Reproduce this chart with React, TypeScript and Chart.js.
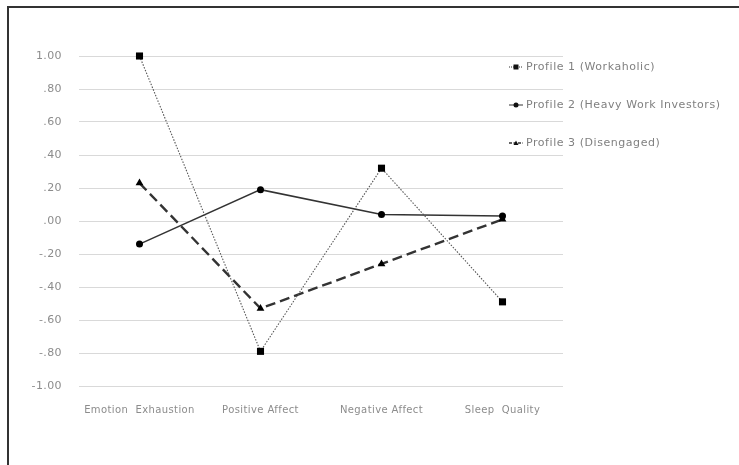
import React, { useEffect, useRef } from "react";
import { Chart, registerables } from "chart.js";

Chart.register(...registerables);

const categories = ["Emotion  Exhaustion", "Positive Affect", "Negative Affect", "Sleep  Quality"];
const profile1 = [1.0, -0.79, 0.32, -0.49];
const profile2 = [-0.14, 0.19, 0.04, 0.03];
const profile3 = [0.23, -0.53, -0.26, 0.01];
const seriesNames = ["Profile 1 (Workaholic)", "Profile 2 (Heavy Work Investors)", "Profile 3 (Disengaged)"];
const yTicks = [1.0, 0.8, 0.6, 0.4, 0.2, 0.0, -0.2, -0.4, -0.6, -0.8, -1.0];

const FONT = "'DejaVu Sans', sans-serif";
const TEXT_COLOR = "#8c8c8c";

function fmt(v: number): string {
  const s = Math.abs(v).toFixed(2);
  const t = Math.abs(v) < 1 ? s.slice(1) : s;
  return v < -0.0001 ? "-" + t : t;
}

const spacingPlugin = {
  id: "letterSpacing",
  beforeDraw(chart: any) {
    chart.ctx.letterSpacing = "0.4px";
  },
};

const legendPlugin = {
  id: "customLegend",
  afterDraw(chart: any) {
    const ctx = chart.ctx;
    const ds = chart.data.datasets;
    const x0 = 509;
    const ys = [67, 105, 143];
    ctx.save();
    ds.forEach((d: any, i: number) => {
      const y = ys[i];
      ctx.strokeStyle = "#333";
      ctx.lineWidth = i === 2 ? 1.5 : 1;
      ctx.setLineDash(i === 0 ? [1, 1] : i === 2 ? [3, 1.5] : []);
      ctx.beginPath();
      ctx.moveTo(x0, y);
      ctx.lineTo(x0 + 14, y);
      ctx.stroke();
      ctx.setLineDash([]);
      ctx.fillStyle = "#111";
      const cx = x0 + 7;
      if (i === 0) {
        ctx.fillRect(cx - 2.5, y - 2.5, 5, 5);
      } else if (i === 1) {
        ctx.beginPath();
        ctx.arc(cx, y, 2.5, 0, Math.PI * 2);
        ctx.fill();
      } else {
        ctx.beginPath();
        ctx.moveTo(cx, y - 2.5);
        ctx.lineTo(cx + 2.5, y + 2);
        ctx.lineTo(cx - 2.5, y + 2);
        ctx.closePath();
        ctx.fill();
      }
      ctx.fillStyle = "#808080";
      ctx.font = "11px " + FONT;
      ctx.letterSpacing = "0.55px";
      ctx.textAlign = "left";
      ctx.textBaseline = "middle";
      ctx.fillText(seriesNames[i], x0 + 17, y);
    });
    ctx.restore();
  },
};

export default function App() {
  const ref = useRef<HTMLCanvasElement | null>(null);

  useEffect(() => {
    if (!ref.current) return;
    const chart = new Chart(ref.current, {
      type: "line",
      data: {
        labels: categories,
        datasets: [
          {
            label: seriesNames[0],
            data: profile1,
            borderColor: "#555",
            borderWidth: 1.1,
            borderDash: [1.5, 1.5],
            pointStyle: "rect",
            pointRadius: 5,
            pointBackgroundColor: "#000",
            pointBorderColor: "#000",
            pointBorderWidth: 0,
            tension: 0,
            clip: false,
          },
          {
            label: seriesNames[1],
            data: profile2,
            borderColor: "#333",
            borderWidth: 1.5,
            borderDash: [],
            pointStyle: "circle",
            pointRadius: 3.5,
            pointBackgroundColor: "#000",
            pointBorderColor: "#000",
            pointBorderWidth: 0,
            tension: 0,
            clip: false,
          },
          {
            label: seriesNames[2],
            data: profile3,
            borderColor: "#333",
            borderWidth: 2.4,
            borderDash: [10, 5],
            pointStyle: "triangle",
            pointRadius: 4.5,
            pointBackgroundColor: "#000",
            pointBorderColor: "#000",
            pointBorderWidth: 0,
            tension: 0,
            clip: false,
          },
        ],
      },
      options: {
        animation: false,
        responsive: false,
        maintainAspectRatio: false,
        layout: { padding: { left: 0, right: 176, top: 56, bottom: 0 } },
        plugins: {
          legend: { display: false },
          tooltip: { enabled: false },
        },
        scales: {
          x: {
            type: "category",
            offset: true,
            grid: { display: false, drawTicks: false },
            border: { display: false },
            ticks: {
              color: TEXT_COLOR,
              font: { family: FONT, size: 10 },
              padding: 18,
              maxRotation: 0,
              autoSkip: false,
            },
            afterFit: (axis: any) => {
              axis.height = 79;
            },
          },
          y: {
            min: -1,
            max: 1,
            afterBuildTicks: (axis: any) => {
              axis.ticks = yTicks.map((v) => ({ value: v }));
            },
            grid: { color: "#d9d9d9", lineWidth: 1, drawTicks: false },
            border: { display: false },
            ticks: {
              color: TEXT_COLOR,
              font: { family: FONT, size: 11 },
              padding: 17,
              callback: (v: any) => fmt(Number(v)),
            },
            afterFit: (axis: any) => {
              axis.width = 79;
            },
          },
        },
      },
      plugins: [spacingPlugin, legendPlugin],
    });
    return () => chart.destroy();
  }, []);

  return (
    <div style={{ position: "fixed", left: 0, top: 0, width: 739, height: 465, background: "#fff", overflow: "hidden" }}>
      <div
        style={{
          position: "absolute",
          left: 7,
          top: 6,
          width: 760,
          height: 480,
          borderTop: "2px solid #333",
          borderLeft: "2px solid #333",
        }}
      />
      <canvas ref={ref} width={739} height={465} style={{ position: "absolute", left: 0, top: 0, width: 739, height: 465 }} />
    </div>
  );
}
